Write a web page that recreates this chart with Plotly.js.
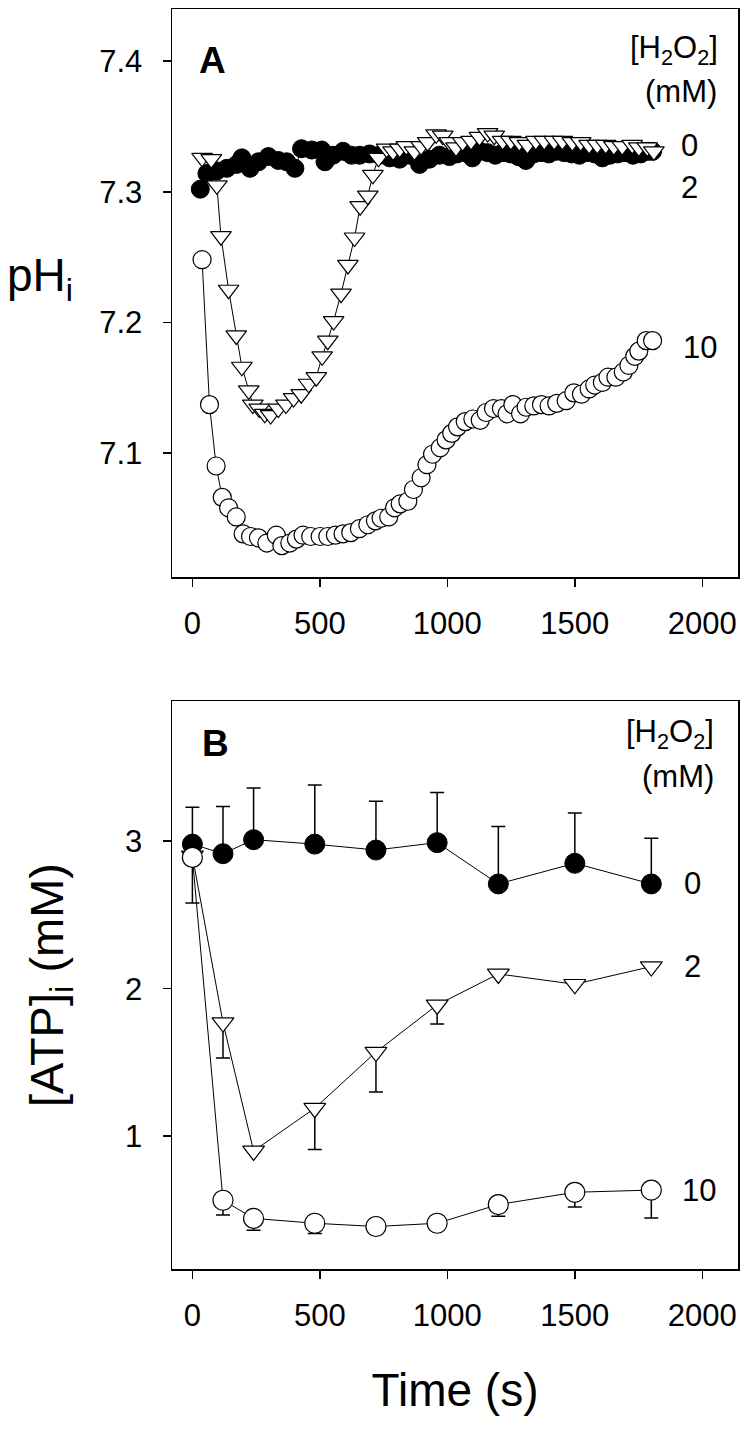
<!DOCTYPE html>
<html>
<head>
<meta charset="utf-8">
<script src="https://cdn.plot.ly/plotly-3.0.1.min.js"></script>
<style>html,body{margin:0;padding:0;background:#fff;}#chart{width:747px;height:1431px;}</style>
</head>
<body>
<div id="chart"></div>
<script>
// ---------- Panel A: pHi vs time ----------
const tA0 = [31, 57, 96, 135, 174, 194, 226, 259, 298, 337, 370, 402, 428, 468, 507, 520, 552, 591, 624, 656, 695, 734, 774, 813, 852, 891, 930, 969, 1008, 1038, 1068, 1098, 1128, 1158, 1188, 1218, 1248, 1278, 1308, 1338, 1368, 1398, 1428, 1458, 1488, 1518, 1548, 1578, 1608, 1638, 1668, 1698, 1728, 1758, 1788, 1805];
const pA0 = [7.302, 7.314, 7.316, 7.318, 7.321, 7.326, 7.318, 7.323, 7.327, 7.324, 7.323, 7.318, 7.333, 7.332, 7.332, 7.323, 7.328, 7.331, 7.328, 7.328, 7.329, 7.328, 7.326, 7.325, 7.328, 7.321, 7.325, 7.328, 7.327, 7.329, 7.330, 7.326, 7.331, 7.330, 7.328, 7.330, 7.329, 7.327, 7.324, 7.329, 7.330, 7.329, 7.331, 7.330, 7.329, 7.328, 7.330, 7.329, 7.326, 7.328, 7.329, 7.330, 7.328, 7.329, 7.331, 7.331];

const tA2 = [38, 74, 96, 112, 142, 172, 194, 221, 237, 262, 284, 307, 337, 367, 397, 427, 456, 486, 509, 531, 554, 583, 610, 636, 658, 688, 708, 730, 762, 787, 813, 839, 871, 897, 923, 956, 982, 1008, 1034, 1060, 1093, 1126, 1158, 1184, 1217, 1249, 1282, 1314, 1347, 1380, 1419, 1451, 1490, 1523, 1556, 1588, 1621, 1653, 1686, 1725, 1751, 1784, 1810];
const pA2 = [7.326, 7.325, 7.305, 7.266, 7.225, 7.190, 7.166, 7.148, 7.137, 7.134, 7.130, 7.129, 7.134, 7.137, 7.142, 7.145, 7.153, 7.158, 7.174, 7.186, 7.201, 7.222, 7.244, 7.265, 7.289, 7.297, 7.313, 7.326, 7.333, 7.331, 7.333, 7.335, 7.331, 7.335, 7.338, 7.344, 7.343, 7.338, 7.334, 7.338, 7.339, 7.342, 7.345, 7.343, 7.339, 7.339, 7.338, 7.336, 7.339, 7.339, 7.339, 7.339, 7.338, 7.338, 7.336, 7.336, 7.336, 7.335, 7.335, 7.336, 7.334, 7.334, 7.331];

const tA10 = [38, 67, 93, 117, 142, 172, 199, 228, 259, 292, 329, 351, 382, 408, 434, 464, 501, 531, 561, 591, 621, 655, 688, 718, 740, 770, 793, 815, 845, 867, 897, 920, 942, 972, 995, 1017, 1040, 1070, 1100, 1129, 1152, 1181, 1212, 1234, 1257, 1287, 1309, 1339, 1369, 1399, 1429, 1466, 1496, 1526, 1556, 1578, 1608, 1630, 1661, 1690, 1712, 1735, 1751, 1780, 1805];
const pA10 = [7.248, 7.137, 7.090, 7.066, 7.058, 7.051, 7.038, 7.036, 7.035, 7.031, 7.037, 7.029, 7.031, 7.034, 7.037, 7.036, 7.036, 7.036, 7.037, 7.038, 7.039, 7.042, 7.045, 7.048, 7.050, 7.051, 7.058, 7.061, 7.063, 7.072, 7.081, 7.091, 7.099, 7.104, 7.110, 7.115, 7.120, 7.124, 7.126, 7.125, 7.131, 7.134, 7.134, 7.130, 7.137, 7.130, 7.135, 7.136, 7.137, 7.136, 7.138, 7.140, 7.146, 7.145, 7.149, 7.152, 7.154, 7.158, 7.158, 7.162, 7.167, 7.174, 7.178, 7.186, 7.186];

// ---------- Panel B: [ATP]i vs time ----------
const tB = [0, 120, 240, 480, 720, 960, 1200, 1500, 1800];
const atp0 = [2.98, 2.915, 3.01, 2.98, 2.94, 2.99, 2.71, 2.85, 2.71];
const atp0ErrUp = [0.25, 0.32, 0.35, 0.40, 0.33, 0.34, 0.39, 0.34, 0.31];
const atp2 = [2.90, 1.77, 0.90, 1.19, 1.57, 1.89, 2.10, 2.03, 2.15];
const atp2ErrDn = [0, 0.24, 0, 0.28, 0.27, 0.13, 0, 0, 0];
const atp10 = [2.89, 0.566, 0.443, 0.41, 0.388, 0.41, 0.537, 0.62, 0.635];
const atp10ErrDn = [0.31, 0.10, 0.08, 0.07, 0, 0, 0.08, 0.10, 0.19];

const xTicks = [0, 500, 1000, 1500, 2000];
const yTicksA = [7.1, 7.2, 7.3, 7.4];
const yTicksB = [1, 2, 3];

const FONT = 'Liberation Sans, Arial, sans-serif';
const W = 747, H = 1431;
const L = 172, R = 9, T = 9, B = 162;
const PW = W - L - R, PH = H - T - B;
const fx = x => (x - L) / PW;           // pixel -> paper x
const fy = y => (H - B - y) / PH;       // pixel -> paper y

const lineStyle = {color: 'black', width: 1};
const traces = [
  {x: tA0, y: pA0, xaxis: 'x', yaxis: 'y', mode: 'lines+markers', name: '0 mM',
   line: lineStyle, marker: {symbol: 'circle', size: 18, color: 'black', line: {color: 'black', width: 1}}},
  {x: tA2, y: pA2, xaxis: 'x', yaxis: 'y', mode: 'lines+markers', name: '2 mM',
   line: lineStyle, marker: {symbol: 'triangle-down', size: 18, color: 'white', line: {color: 'black', width: 1.2}}},
  {x: tA10, y: pA10, xaxis: 'x', yaxis: 'y', mode: 'lines+markers', name: '10 mM',
   line: lineStyle, marker: {symbol: 'circle', size: 18, color: 'white', line: {color: 'black', width: 1.2}}},
  {x: tB, y: atp0, xaxis: 'x2', yaxis: 'y2', mode: 'lines+markers', name: '0 mM',
   line: lineStyle, marker: {symbol: 'circle', size: 20, color: 'black', line: {color: 'black', width: 1}},
   error_y: {type: 'data', symmetric: false, array: atp0ErrUp, arrayminus: tB.map(() => 0), color: 'black', thickness: 1.5, width: 7}},
  {x: tB, y: atp2, xaxis: 'x2', yaxis: 'y2', mode: 'lines+markers', name: '2 mM',
   line: lineStyle, marker: {symbol: 'triangle-down', size: 19, color: 'white', line: {color: 'black', width: 1.2}},
   error_y: {type: 'data', symmetric: false, array: tB.map(() => 0), arrayminus: atp2ErrDn, color: 'black', thickness: 1.5, width: 7}},
  {x: tB, y: atp10, xaxis: 'x2', yaxis: 'y2', mode: 'lines+markers', name: '10 mM',
   line: lineStyle, marker: {symbol: 'circle', size: 20, color: 'white', line: {color: 'black', width: 1.2}},
   error_y: {type: 'data', symmetric: false, array: tB.map(() => 0), arrayminus: atp10ErrDn, color: 'black', thickness: 1.5, width: 7}}
];

const axisBase = {
  showline: true, mirror: true, linecolor: 'black', linewidth: 1.5,
  ticks: 'outside', ticklen: 8, tickwidth: 1.5, tickcolor: 'black',
  showgrid: false, zeroline: false,
  tickfont: {family: FONT, size: 31, color: 'black'}
};

const smallFont = {family: FONT, size: 31, color: 'black'};
const ann = (text, x, y, font) => ({text: text, x: fx(x), y: fy(y), xref: 'paper', yref: 'paper',
  showarrow: false, xanchor: 'center', yanchor: 'middle', font: font || smallFont});

const layout = {
  width: W, height: H,
  margin: {l: L, r: R, t: T, b: B},
  paper_bgcolor: 'white', plot_bgcolor: 'white',
  showlegend: false,
  font: {family: FONT, color: 'black'},
  xaxis: Object.assign({}, axisBase, {anchor: 'y', domain: [0, 1], range: [-80, 2140], tickvals: xTicks, ticklabelstandoff: 10}),
  yaxis: Object.assign({}, axisBase, {anchor: 'x', domain: [fy(577), 1], range: [7.005, 7.44], tickvals: yTicksA, tickformat: '.1f', ticklabelstandoff: 14}),
  xaxis2: Object.assign({}, axisBase, {anchor: 'y2', domain: [0, 1], range: [-80, 2140], tickvals: xTicks, ticklabelstandoff: 10,
    title: {text: 'Time (s)', font: {family: FONT, size: 46, color: 'black'}, standoff: 42}}),
  yaxis2: Object.assign({}, axisBase, {anchor: 'x2', domain: [0, fy(701)], range: [0.1, 3.95], tickvals: yTicksB, ticklabelstandoff: 14,
    title: {text: '[ATP]<sub>i</sub> (mM)', font: {family: FONT, size: 47, color: 'black'}, standoff: 46}}),
  annotations: [
    ann('<b>A</b>', 212, 61, {family: FONT, size: 37, color: 'black'}),
    ann('<b>B</b>', 215, 744, {family: FONT, size: 37, color: 'black'}),
    ann('[H<sub>2</sub>O<sub>2</sub>]', 674, 50),
    ann('(mM)', 681, 92),
    ann('0', 689, 146),
    ann('2', 689, 187),
    ann('10', 700, 347),
    ann('[H<sub>2</sub>O<sub>2</sub>]', 670, 734),
    ann('(mM)', 678, 776),
    ann('0', 692, 883),
    ann('2', 692, 966),
    ann('10', 699, 1190),
    ann('pH<sub>i</sub>', 40, 278, {family: FONT, size: 46, color: 'black'})
  ]
};

Plotly.newPlot('chart', traces, layout, {staticPlot: true, displayModeBar: false});
</script>
</body>
</html>
